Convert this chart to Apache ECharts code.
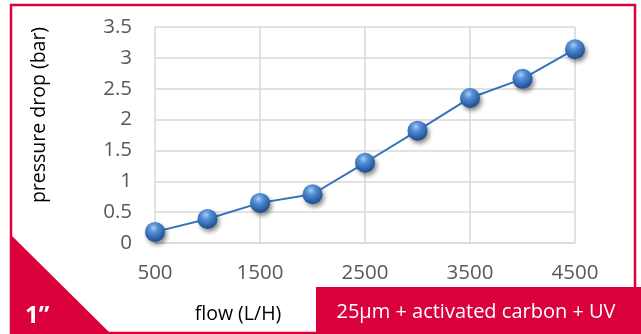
<!DOCTYPE html>
<html>
<head>
<meta charset="utf-8">
<script src="https://cdn.jsdelivr.net/npm/echarts@6/dist/echarts.min.js"></script>
<style>
html,body{margin:0;padding:0;background:#fff;}
#chart{width:641px;height:334px;}
</style>
</head>
<body>
<div id="chart"></div>
<script>
const categories = ['500','1000','1500','2000','2500','3000','3500','4000','4500'];
const pressureDrop = [0.18, 0.39, 0.65, 0.79, 1.30, 1.82, 2.35, 2.66, 3.14];
const yTitle = 'pressure drop (bar)';
const xTitle = 'flow (L/H)';
const sizeLabel = '1\u201D';
const filterLabel = '25\u00B5m + activated carbon + UV';

const RED = '#d9003b';
const FONT = '"Open Sans", "Liberation Sans", sans-serif';

const chart = echarts.init(document.getElementById('chart'), null, {renderer:'canvas'});
chart.setOption({
  animation: false,
  backgroundColor: '#fff',
  grid: {left: 155, right: 66, top: 27, bottom: 91, containLabel: false},
  xAxis: {
    type: 'category',
    data: categories,
    boundaryGap: false,
    axisLine: {lineStyle: {color: '#d9d9d9', width: 1.5}},
    axisTick: {show: false},
    axisLabel: {interval: 1, color: '#595959', fontSize: 20.5, fontFamily: FONT, margin: 20},
    splitLine: {show: true, interval: 1, lineStyle: {color: '#d9d9d9', width: 1.5}}
  },
  yAxis: {
    type: 'value',
    min: 0, max: 3.5, interval: 0.5,
    axisLine: {show: false},
    axisTick: {show: false},
    axisLabel: {color: '#595959', fontSize: 20.5, fontFamily: FONT, margin: 23},
    splitLine: {show: true, lineStyle: {color: '#d9d9d9', width: 1.5}}
  },
  series: [{
    type: 'line',
    data: pressureDrop,
    symbol: 'circle',
    symbolSize: 20,
    lineStyle: {color: '#3572bb', width: 2},
    itemStyle: {
      color: new echarts.graphic.RadialGradient(0.42, 0.3, 0.75, [
        {offset: 0, color: '#a8ccf4'},
        {offset: 0.3, color: '#5590d6'},
        {offset: 0.75, color: '#2a5fa8'},
        {offset: 1, color: '#1c4680'}
      ]),
      shadowBlur: 4,
      shadowColor: 'rgba(0,0,0,0.45)',
      shadowOffsetX: 2,
      shadowOffsetY: 3
    },
    z: 3
  }],
  graphic: [
    {type: 'rect', shape: {x: 11, y: 5, width: 624, height: 328}, style: {fill: 'none', stroke: RED, lineWidth: 2.5}, z: 10},
    {type: 'polygon', shape: {points: [[10, 234], [10, 334], [111, 334]]}, style: {fill: RED}, z: 11},
    {type: 'rect', shape: {x: 316, y: 287, width: 325, height: 47}, style: {fill: RED}, z: 11},
    {type: 'text', x: 25, y: 316, style: {text: sizeLabel, fill: '#fff', font: 'bold 24px ' + FONT, textVerticalAlign: 'middle'}, z: 12},
    {type: 'text', x: 476, y: 312, style: {text: filterLabel, fill: '#fff', font: '20px ' + FONT, textAlign: 'center', textVerticalAlign: 'middle'}, z: 12},
    {type: 'text', x: 238, y: 314, style: {text: xTitle, fill: '#000', font: '19.5px ' + FONT, textAlign: 'center', textVerticalAlign: 'middle'}, z: 12},
    {type: 'text', x: 39, y: 115, rotation: Math.PI / 2, style: {text: yTitle, fill: '#000', font: '19.5px ' + FONT, textAlign: 'center', textVerticalAlign: 'middle'}, z: 12}
  ]
});
</script>
</body>
</html>
